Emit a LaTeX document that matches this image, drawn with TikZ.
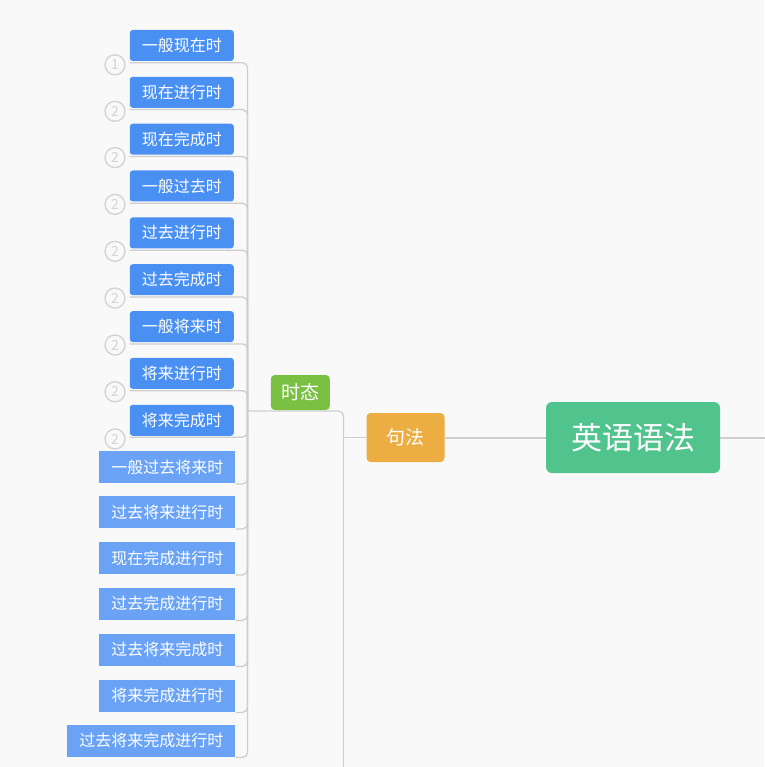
\documentclass[tikz,border=0pt]{standalone}
\usepackage{fontspec}
\setmainfont{Noto Sans CJK SC}
\usepackage{xcolor}
\usepackage{tikz}
\usetikzlibrary{positioning}

\definecolor{fundo}{RGB}{249,249,249}
\definecolor{linha}{RGB}{206,206,206}
\definecolor{azul}{RGB}{74,143,242}
\definecolor{azulclaro}{RGB}{106,163,245}
\definecolor{verdetempo}{RGB}{121,192,67}
\definecolor{laranja}{RGB}{236,174,66}
\definecolor{verderaiz}{RGB}{81,195,140}
\definecolor{numero}{RGB}{212,212,212}

\begin{document}
\begin{tikzpicture}[x=1pt, y=-1pt,
    conn/.style={draw=linha, line width=1.3pt, rounded corners=5pt},
    tronco/.style={draw=linha, line width=2pt},
    tempo/.style={fill=azul, text=white, rounded corners=3pt, inner xsep=12pt,
        inner ysep=0pt, minimum height=31pt, anchor=east, font=\fontsize{16}{16}\selectfont},
    tempob/.style={fill=azulclaro, text=white, inner xsep=12pt,
        inner ysep=0pt, minimum height=32pt, anchor=east, font=\fontsize{16}{16}\selectfont},
    num/.style={circle, draw=numero, line width=1.4pt, text=numero, inner sep=0pt,
        minimum size=20pt, font=\fontsize{14}{14}\selectfont},
    ramo/.style={text=white, rounded corners=4pt, inner ysep=0pt, font=\fontsize{19}{19}\selectfont}
  ]
    % Fundo
    \useasboundingbox (0,0) rectangle (764,767);
    \fill[fundo] (0,0) rectangle (764,767);

    % Raiz e ramos
    \node[ramo, fill=verderaiz, rounded corners=6pt, inner xsep=25pt, minimum height=71pt,
        font=\fontsize{31}{31}\selectfont] (yingyu) at (633,437.5) {英语语法};
    \node[ramo, fill=laranja, inner xsep=20pt, minimum height=49pt] (jufa) at (405.5,437.5) {句法};
    \node[ramo, fill=verdetempo, inner xsep=10.5pt, minimum height=35pt] (shitai) at (300.3,392.5) {时态};

    % Pontos dos troncos
    \coordinate (tronco) at (247.5,411);
    \coordinate (juntar) at (343.5,437.5);
    \coordinate (baixo) at (343.5,770);
    \coordinate (saida) at (766,437.5);

    % Tempos (primeiro grupo)
    \node[tempo] (t1) at (234,45.5) {一般现在时};
    \node[tempo] (t2) at (234,92.3) {现在进行时};
    \node[tempo] (t3) at (234,139.2) {现在完成时};
    \node[tempo] (t4) at (234,186.0) {一般过去时};
    \node[tempo] (t5) at (234,232.9) {过去进行时};
    \node[tempo] (t6) at (234,279.7) {过去完成时};
    \node[tempo] (t7) at (234,326.6) {一般将来时};
    \node[tempo] (t8) at (234,373.4) {将来进行时};
    \node[tempo] (t9) at (234,420.3) {将来完成时};

    % Numeros
    \node[num] (n1) at (115,64.8) {1};
    \node[num] (n2) at (115,111.3) {2};
    \node[num] (n3) at (115,157.6) {2};
    \node[num] (n4) at (115,204.4) {2};
    \node[num] (n5) at (115,251.3) {2};
    \node[num] (n6) at (115,298.1) {2};
    \node[num] (n7) at (115,345.0) {2};
    \node[num] (n8) at (115,391.8) {2};
    \node[num] (n9) at (115,439.0) {2};

    % Tempos (segundo grupo)
    \node[tempob] (f1) at (235.5,467) {一般过去将来时};
    \node[tempob] (f2) at (235.5,512) {过去将来进行时};
    \node[tempob] (f3) at (235.5,558) {现在完成进行时};
    \node[tempob] (f4) at (235.5,603.5) {过去完成进行时};
    \node[tempob] (f5) at (235.5,649.5) {过去将来完成时};
    \node[tempob] (f6) at (235.5,695.5) {将来完成进行时};
    \node[tempob] (f7) at (235.5,740.5) {过去将来完成进行时};

    % Ligacoes dos tempos
    \draw[conn] ([yshift=-1.6pt]t1.south west) -| (tronco);
    \draw[conn] ([yshift=-1.6pt]t2.south west) -| (tronco);
    \draw[conn] ([yshift=-1.6pt]t3.south west) -| (tronco);
    \draw[conn] ([yshift=-1.6pt]t4.south west) -| (tronco);
    \draw[conn] ([yshift=-1.6pt]t5.south west) -| (tronco);
    \draw[conn] ([yshift=-1.6pt]t6.south west) -| (tronco);
    \draw[conn] ([yshift=-1.6pt]t7.south west) -| (tronco);
    \draw[conn] ([yshift=-1.6pt]t8.south west) -| (tronco);
    \draw[conn] ([yshift=-1.2pt]t9.south west) -| (tronco);
    \draw[conn] ([yshift=-0.7pt]f1.south east) -| (tronco);
    \draw[conn] ([yshift=-0.7pt]f2.south east) -| (tronco);
    \draw[conn] ([yshift=-0.7pt]f3.south east) -| (tronco);
    \draw[conn] ([yshift=-0.7pt]f4.south east) -| (tronco);
    \draw[conn] ([yshift=-0.7pt]f5.south east) -| (tronco);
    \draw[conn] ([yshift=-0.7pt]f6.south east) -| (tronco);
    \draw[conn] ([yshift=-0.7pt]f7.south east) -| (tronco);

    % Ligacao de 时态 e 句法
    \draw[conn] (tronco) -| (juntar);
    \draw[conn] (juntar) -- (baixo);
    \draw[conn] (juntar) -- (jufa.west);
    \draw[tronco] (jufa.east) -- (yingyu.west);
    \draw[tronco] (yingyu.east) -- (saida);
\end{tikzpicture}
\end{document}
